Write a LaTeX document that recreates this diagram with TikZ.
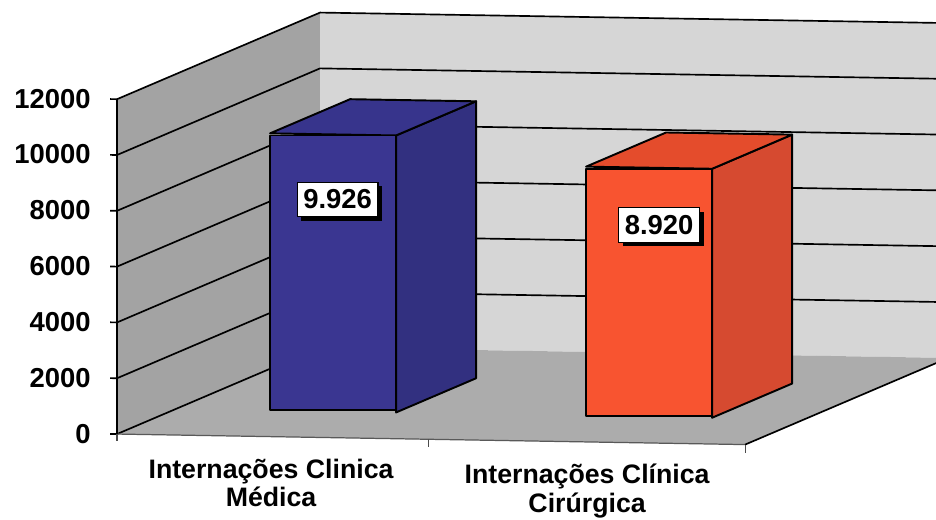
\documentclass[tikz,border=0pt]{standalone}
\usepackage{xcolor}
\usepackage{tikz}
\usepackage{fontspec}
\setmainfont{Liberation Sans}
\usetikzlibrary{shadows}
\definecolor{leftwall}{RGB}{163,163,163}
\definecolor{backwall}{RGB}{214,214,214}
\definecolor{floorgray}{RGB}{172,172,172}
\definecolor{bluefront}{RGB}{58,54,145}
\definecolor{bluetop}{RGB}{55,52,140}
\definecolor{blueside}{RGB}{50,48,128}
\definecolor{redfront}{RGB}{248,84,48}
\definecolor{redtop}{RGB}{228,76,44}
\definecolor{redside}{RGB}{214,74,48}

\begin{document}
\begin{tikzpicture}[x={(0.02cm,-0.00034cm)}, y={(0cm,-0.02cm)},
	grid/.style={line width=0.95pt, black},
	barline/.style={line width=1.1pt, black, line join=round},
	ylab/.style={anchor=east, inner sep=0pt, font=\bfseries\fontsize{15.6pt}{18pt}\selectfont},
	catlab/.style={anchor=north, inner sep=0pt, align=center, font=\bfseries\fontsize{15.2pt}{16.4pt}\selectfont},
	valbox/.style={fill=white, draw=black, line width=0.6pt, inner xsep=3.5pt, inner ysep=0pt, minimum height=19.8pt,
		font=\bfseries\fontsize{15.6pt}{18pt}\selectfont,
		drop shadow={shadow xshift=2.3pt, shadow yshift=-2.3pt, fill=black, opacity=1}}]
			\useasboundingbox (0cm,0cm) rectangle (18.72cm,-10.38cm);
			\clip (0cm,0cm) rectangle (18.72cm,-10.38cm);
			
			\coordinate (a0) at (117,432);
			\coordinate (a1) at (117,376.2);
			\coordinate (a2) at (117,320.4);
			\coordinate (a3) at (117,264.6);
			\coordinate (a4) at (117,208.8);
			\coordinate (a5) at (117,153);
			\coordinate (a6) at (117,97.2);
			\coordinate (b0) at (320,342);
			\coordinate (b1) at (320,286.2);
			\coordinate (b2) at (320,230.4);
			\coordinate (b3) at (320,174.6);
			\coordinate (b4) at (320,118.8);
			\coordinate (b5) at (320,63);
			\coordinate (b6) at (320,7.2);
			\coordinate (c0) at (960,342);
			\coordinate (c1) at (960,286.2);
			\coordinate (c2) at (960,230.4);
			\coordinate (c3) at (960,174.6);
			\coordinate (c4) at (960,118.8);
			\coordinate (c5) at (960,63);
			\coordinate (c6) at (960,7.2);
			\coordinate (f1) at (745,432);
			\coordinate (f2) at (948,342);
			
			% walls and floor
			\fill[leftwall] (a0) -- (a6) -- (b6) -- (b0) -- cycle;
			\fill[backwall] (b0) -- (b6) -- (c6) -- (c0) -- cycle;
			\fill[floorgray] (a0) -- (f1) -- (f2) -- (b0) -- cycle;
			
			% grid lines
			\draw[grid] (a0) -- (b0);
			\draw[grid] (a1) -- (b1) -- (c1);
			\draw[grid] (a2) -- (b2) -- (c2);
			\draw[grid] (a3) -- (b3) -- (c3);
			\draw[grid] (a4) -- (b4) -- (c4);
			\draw[grid] (a5) -- (b5) -- (c5);
			\draw[grid] (a6) -- (b6) -- (c6);
			
			% axes
			\draw[line width=0.7pt, gray!70!black] (a0) -- (f1);
			\draw[grid] (f1) -- (f2);
			\draw[grid] (a0) -- (a6);
			\draw[grid] (a0) -- ++(-7,0);
			\draw[grid] (a1) -- ++(-7,0);
			\draw[grid] (a2) -- ++(-7,0);
			\draw[grid] (a3) -- ++(-7,0);
			\draw[grid] (a4) -- ++(-7,0);
			\draw[grid] (a5) -- ++(-7,0);
			\draw[grid] (a6) -- ++(-7,0);
			\draw[line width=0.6pt, gray!60!black] (a0) -- ++(0,7);
			\draw[line width=0.6pt, gray!60!black] (428,432) -- ++(0,8);
			\draw[line width=0.6pt, gray!60!black] (f1) -- ++(0,8);
			
			\node (y0) at (91,432) [ylab] {0};
			\node (y1) at (91,376.2) [ylab] {2000};
			\node (y2) at (91,320.4) [ylab] {4000};
			\node (y3) at (91,264.6) [ylab] {6000};
			\node (y4) at (91,208.8) [ylab] {8000};
			\node (y5) at (91,153) [ylab] {10000};
			\node (y6) at (91,97.2) [ylab] {12000};
			
			% bar Clinica Medica
			\draw[barline, fill=blueside] (396,405.7) -- ++(80,-35.5) -- ++(0,-276.9) -- (396,128.8) -- cycle;
			\draw[barline, fill=bluetop] (270,128.8) -- ++(80,-35.5) -- ++(126,0) -- (396,128.8) -- cycle;
			\draw[barline, fill=bluefront] (270,405.7) rectangle (396,128.8);
			
			% bar Clinica Cirurgica
			\draw[barline, fill=redside] (712,405.7) -- ++(80,-35.5) -- ++(0,-248.9) -- (712,156.8) -- cycle;
			\draw[barline, fill=redtop] (586,156.8) -- ++(80,-35.5) -- ++(126,0) -- (712,156.8) -- cycle;
			\draw[barline, fill=redfront] (586,405.7) rectangle (712,156.8);
			
			\node (val1) at (337.5,193.8) [valbox] {9.926};
			\node (val2) at (659,213.8) [valbox] {8.920};
			
			\node (cat1) at (271,453.7) [catlab] {Internações Clinica\\Médica};
			\node (cat2) at (587,453.7) [catlab] {Internações Clínica\\Cirúrgica};
		\end{tikzpicture}
\end{document}
